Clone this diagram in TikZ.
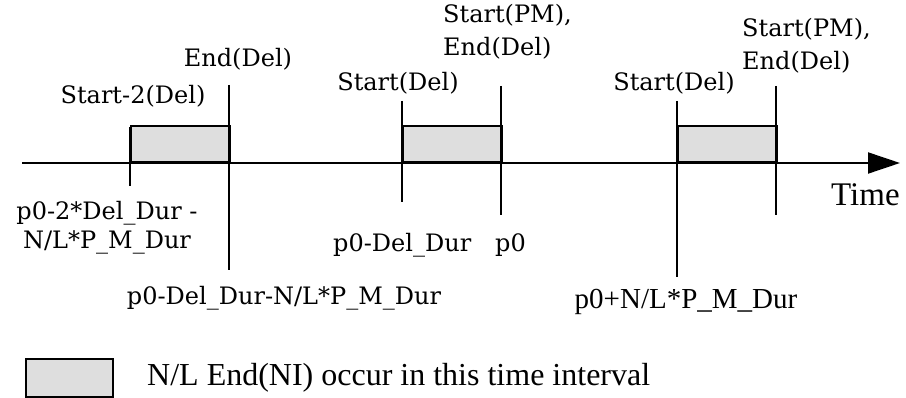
\documentclass[tikz,border=0pt]{standalone}
\usepackage{fontspec}
\setmainfont{Liberation Serif}
\newfontfamily\schfont{DejaVu Serif}
\usetikzlibrary{arrows.meta}
\definecolor{boxgray}{HTML}{DEDEDE}
\tikzset{
  lbl/.style={inner sep=0pt, font=\schfont\fontsize{24}{33}\selectfont},
  tlbl/.style={inner sep=0pt, font=\fontsize{29}{33}\selectfont},
  interval/.style={draw=black, line width=2pt, fill=boxgray},
  tick/.style={line width=2.2pt},
  axis/.style={line width=2pt, -{Triangle[length=32pt,width=21pt]}}
}
\begin{document}
\begin{tikzpicture}[x=1pt,y=-1pt]
\useasboundingbox (0,0) rectangle (906,398);
% interval boxes
\node[interval, minimum width=99pt, minimum height=36pt, inner sep=0pt, anchor=south west] (b1) at (130,163) {};
\node[interval, minimum width=99pt, minimum height=36pt, inner sep=0pt, anchor=south west] (b2) at (402,163) {};
\node[interval, minimum width=99pt, minimum height=36pt, inner sep=0pt, anchor=south west] (b3) at (677,163) {};
% axis
\coordinate (a0) at (22,163);
\coordinate (a1) at (900,163);
\draw[axis] (a0) -- (a1);
% vertical lines
\coordinate (v1t) at (130,127); \coordinate (v1b) at (130,186);
\coordinate (v2t) at (229,85);  \coordinate (v2b) at (229,270);
\coordinate (v3t) at (402,101); \coordinate (v3b) at (402,202);
\coordinate (v4t) at (501,86);  \coordinate (v4b) at (501,215);
\coordinate (v5t) at (677,101); \coordinate (v5b) at (677,277);
\coordinate (v6t) at (776,86);  \coordinate (v6b) at (776,215);
\draw[tick] (v1t) -- (v1b);
\draw[tick] (v2t) -- (v2b);
\draw[tick] (v3t) -- (v3b);
\draw[tick] (v4t) -- (v4b);
\draw[tick] (v5t) -- (v5b);
\draw[tick] (v6t) -- (v6b);
% top labels
\node[lbl] (enddel1) at (238,59) {End(Del)};
\node[lbl] (start2) at (133,96) {Start-2(Del)};
\node[lbl] (start1) at (398,83) {Start(Del)};
\node[lbl] (start3) at (674,83) {Start(Del)};
\node[lbl, align=left, anchor=west] (pm1) at (443,32) {Start(PM),\\End(Del)};
\node[lbl, align=left, anchor=west] (pm2) at (742,46) {Start(PM),\\End(Del)};
% bottom labels
\node[lbl, align=center, font=\schfont\fontsize{24}{29}\selectfont] (bl1) at (107,228) {p0-2*Del\_Dur -\\N/L*P\_M\_Dur};
\node[lbl] (bl2) at (284,298) {p0-Del\_Dur-N/L*P\_M\_Dur};
\node[lbl, anchor=west] (bl3) at (333,245) {p0-Del\_Dur};
\node[lbl, anchor=west] (bl4) at (495,245) {p0};
\node[tlbl] (bl5) at (686,302) {p0+N/L*P\_M\_Dur};
\node[tlbl, anchor=west, font=\fontsize{33}{36}\selectfont] (time) at (831,195) {Time};
% legend
\node[interval, minimum width=87pt, minimum height=38pt, inner sep=0pt, anchor=north west] (leg) at (25,358) {};
\node[tlbl, anchor=west, font=\fontsize{32}{36}\selectfont] (legt) at (147,378) {N/L End(NI) occur in this time interval};
\end{tikzpicture}
\end{document}
